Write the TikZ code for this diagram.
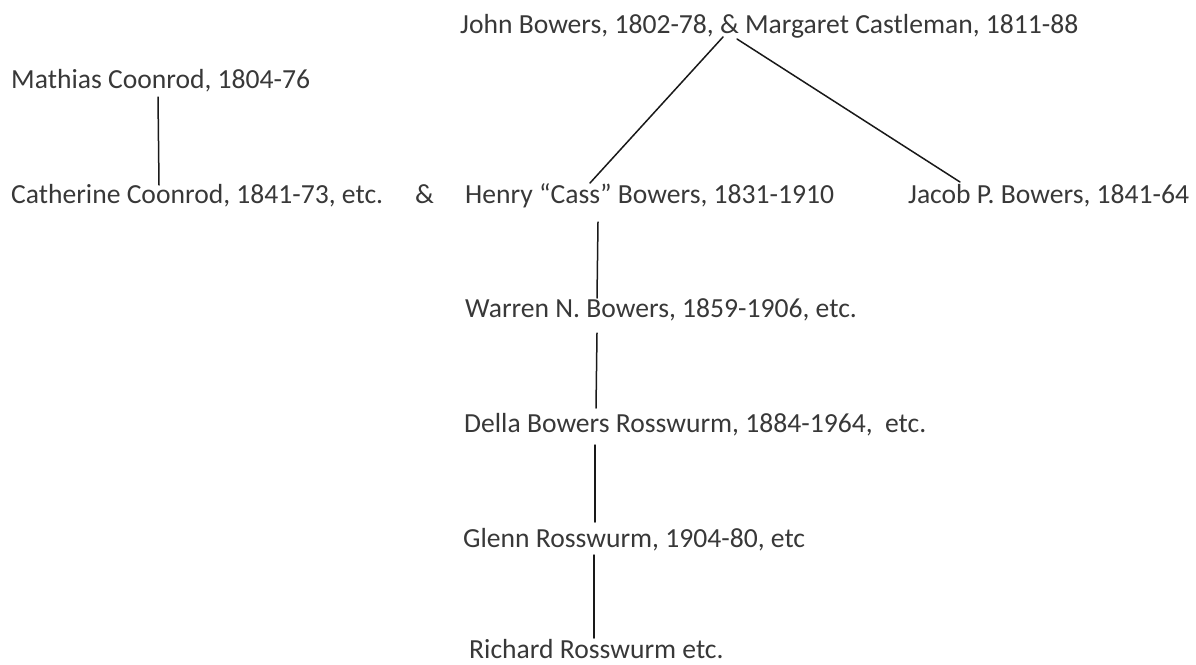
\documentclass[tikz,border=0pt]{standalone}
\usepackage{fontspec}
\setmainfont{Carlito}
\begin{document}
\begin{tikzpicture}[x=1pt,y=-1pt,
  lbl/.style={anchor=base west,inner sep=0pt,text=black!78,font=\fontsize{27.6}{31}\selectfont},
  link/.style={draw=black!90,line width=1.5pt,line cap=round}]
\useasboundingbox (0,0) rectangle (1196,664);
\node[lbl] (john) at (460,33) {John Bowers, 1802-78, \& Margaret Castleman, 1811-88};
\node[lbl] (mathias) at (11,88) {Mathias Coonrod, 1804-76};
\node[lbl] (cath) at (11,203) {Catherine Coonrod, 1841-73, etc.};
\node[lbl] (amp) at (415,203) {\&};
\node[lbl] (henry) at (465,203) {Henry “Cass” Bowers, 1831-1910};
\node[lbl] (jacob) at (908,203) {Jacob P. Bowers, 1841-64};
\node[lbl] (warren) at (465,317) {Warren N. Bowers, 1859-1906, etc.};
\node[lbl] (della) at (464,432) {Della Bowers Rosswurm, 1884-1964,~ etc.};
\node[lbl] (glenn) at (463,547) {Glenn Rosswurm, 1904-80, etc};
\node[lbl] (richard) at (469,658) {Richard Rosswurm etc.};
% connector end points
\coordinate (mA) at (158,97);   \coordinate (cA) at (159,185);
\coordinate (jL) at (723,37);   \coordinate (hT) at (590,183);
\coordinate (jR) at (737,39);   \coordinate (jbT) at (960,182);
\coordinate (h1) at (598,222);  \coordinate (w1) at (597,298);
\coordinate (w2) at (597,333);  \coordinate (d1) at (596,408);
\coordinate (d2) at (595,445);  \coordinate (g1) at (595,522);
\coordinate (g2) at (594,555);  \coordinate (r1) at (594,638);
\draw[link] (mA) -- (cA);
\draw[link] (jL) -- (hT);
\draw[link] (jR) -- (jbT);
\draw[link] (h1) -- (w1);
\draw[link] (w2) -- (d1);
\draw[link] (d2) -- (g1);
\draw[link] (g2) -- (r1);
\end{tikzpicture}
\end{document}
